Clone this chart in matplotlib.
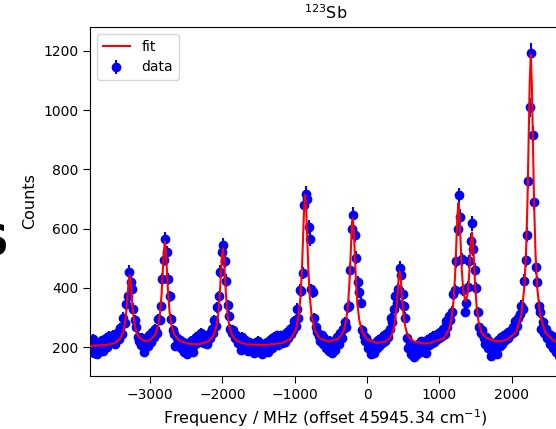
import numpy as np
import matplotlib
matplotlib.use("Agg")
import matplotlib.pyplot as plt

# scan grid (MHz, relative to 45945.34 cm-1)
freq_start = -3830
freq_stop = 2710
freq_step = 20

# counts per scan point, rows of 10 (first value of each row in the comment)
counts = [
    215, 190, 228, 182, 205, 176, 212, 196, 224, 188,   # -3830
    210, 232, 201, 238, 215, 226, 242, 210, 236, 250,   # -3630
    228, 264, 246, 300, 282, 345, 372, 455, 421, 398,   # -3430
    330, 292, 268, 236, 222, 208, 232, 185, 214, 228,   # -3230
    203, 240, 218, 252, 236, 262, 248, 295, 292, 340,   # -3030
    430, 495, 565, 520, 430, 372, 296, 258, 246, 204,   # -2830
    232, 212, 226, 198, 218, 184, 205, 178, 212, 190,   # -2630
    222, 183, 206, 235, 214, 242, 226, 248, 230, 215,   # -2430
    238, 210, 246, 232, 262, 248, 292, 272, 335, 372,   # -2230
    455, 520, 545, 490, 425, 342, 305, 262, 248, 258,   # -2030
    230, 242, 215, 228, 192, 236, 205, 226, 212, 186,   # -1830
    218, 196, 208, 182, 215, 193, 222, 188, 204, 178,   # -1630
    210, 192, 218, 185, 212, 228, 198, 236, 215, 240,   # -1430
    208, 226, 240, 215, 238, 218, 250, 232, 262, 246,   # -1230
    258, 290, 272, 330, 300, 392, 390, 450, 680, 717,   # -1030
    700, 605, 565, 395, 385, 298, 268, 252, 238, 222,   # -830
    240, 212, 230, 196, 218, 188, 222, 180, 212, 192,   # -630
    226, 236, 210, 248, 232, 262, 285, 268, 335, 340,   # -430
    462, 600, 646, 580, 502, 420, 386, 350, 258, 238,   # -230
    222, 232, 196, 214, 178, 206, 182, 215, 198, 226,   # -30
    204, 232, 214, 240, 220, 248, 236, 262, 298, 285,   # 170
    330, 372, 350, 398, 468, 445, 380, 338, 300, 232,   # 370
    196, 210, 178, 202, 168, 194, 176, 210, 184, 220,   # 570
    192, 212, 180, 226, 206, 232, 214, 238, 218, 226,   # 770
    244, 232, 250, 238, 262, 245, 290, 268, 306, 292,   # 970
    320, 380, 392, 490, 600, 712, 640, 496, 392, 320,   # 1170
    348, 402, 490, 560, 618, 530, 462, 400, 318, 270,   # 1370
    248, 258, 232, 212, 236, 198, 222, 170, 208, 186,   # 1570
    214, 178, 226, 204, 234, 212, 240, 226, 248, 232,   # 1770
    256, 244, 268, 252, 288, 272, 298, 312, 340, 330,   # 1970
    425, 494, 580, 760, 1010, 1191, 916, 690, 470, 420, # 2170
    340, 318, 262, 285, 248, 262, 232, 246, 210, 238,   # 2370
    196, 220, 184, 214, 172, 205, 188, 226,             # 2570
]

# fitted curve
fit_freq = [
    -3830, -3603, -3483, -3413, -3373, -3348, -3328, -3313, -3298, -3283,
    -3268, -3253, -3238, -3218, -3193, -3153, -3083, -3040,
    -2996, -2926, -2886, -2861, -2841, -2826, -2811, -2796, -2781, -2766,
    -2751, -2731, -2706, -2666, -2596, -2476, -2395,
    -2314, -2194, -2124, -2084, -2059, -2039, -2024, -2009, -1994, -1979,
    -1964, -1949, -1929, -1904, -1864, -1794, -1674, -1425,
    -1177, -1057, -987, -947, -922, -902, -887, -872, -857, -842,
    -827, -812, -792, -767, -727, -657, -537,
    -399, -329, -289, -264, -244, -229, -214, -199, -184, -169,
    -154, -134, -109, -69, 1, 125,
    250, 320, 360, 385, 405, 420, 435, 450, 465, 480,
    495, 515, 540, 580, 650, 770, 856,
    1062, 1132, 1172, 1197, 1217, 1232, 1247, 1262, 1277, 1292,
    1307, 1327, 1356, 1385, 1405, 1420, 1435, 1450, 1465, 1480,
    1495, 1515, 1540, 1580, 1650, 1770, 1856,
    1942, 2062, 2132, 2172, 2197, 2217, 2232, 2247, 2262, 2277,
    2292, 2307, 2327, 2352, 2392, 2462, 2582, 2720,
]
fit_counts = [
    204, 208, 214, 229, 251, 281, 323, 369, 419, 443,
    419, 370, 324, 282, 252, 233, 222, 221,
    225, 243, 275, 319, 380, 448, 521, 556, 522, 448,
    381, 319, 275, 243, 222, 212, 210,
    211, 220, 239, 269, 310, 368, 431, 500, 533, 500,
    430, 368, 310, 269, 239, 220, 210, 207,
    214, 228, 258, 306, 369, 459, 557, 663, 714, 663,
    557, 459, 369, 307, 260, 231, 219,
    228, 252, 291, 344, 420, 502, 592, 635, 592, 502,
    420, 345, 292, 252, 226, 215,
    218, 232, 255, 286, 330, 378, 430, 456, 430, 378,
    330, 286, 256, 232, 219, 213, 213,
    230, 260, 305, 365, 448, 539, 638, 687, 643, 551,
    467, 395, 356, 373, 424, 486, 555, 587, 548, 470,
    399, 333, 286, 250, 231, 221, 221,
    226, 252, 309, 400, 522, 696, 885, 1090, 1188, 1089,
    884, 695, 521, 399, 309, 250, 221, 211,
]

freq = np.arange(freq_start, freq_stop + 1, freq_step)
counts = np.array(counts, dtype=float)
err = np.sqrt(counts)

fig = plt.figure(figsize=(5.56, 4.29), dpi=100)
ax = fig.add_axes([0.162, 0.1235, 0.847, 0.8135])

ax.errorbar(freq, counts, yerr=err, fmt='o', color='blue', ms=6,
            elinewidth=1.5, capsize=0, label='data', zorder=2)
ax.plot(fit_freq, fit_counts, color='red', lw=1.5, label='fit', zorder=3)

ax.set_xlim(-3830, 2680)
ax.set_ylim(103, 1280)
ax.set_xticks([-3000, -2000, -1000, 0, 1000, 2000])
ax.set_yticks([200, 400, 600, 800, 1000, 1200])
ax.tick_params(length=5, labelsize=10)

ax.set_title('$^{123}$Sb', fontsize=11.5)
ax.set_xlabel('Frequency / MHz (offset 45945.34 cm$^{-1}$)', fontsize=11.5)
ax.set_ylabel('Counts', fontsize=11.5)
ax.legend(loc='upper left', fontsize=10)

# panel letter of the neighbouring plot, cut by the crop
fig.text(9 / 556, 174 / 429, 'S', ha='right', va='baseline',
         fontsize=30, fontweight='bold')

fig.savefig('out.png', dpi=100)
